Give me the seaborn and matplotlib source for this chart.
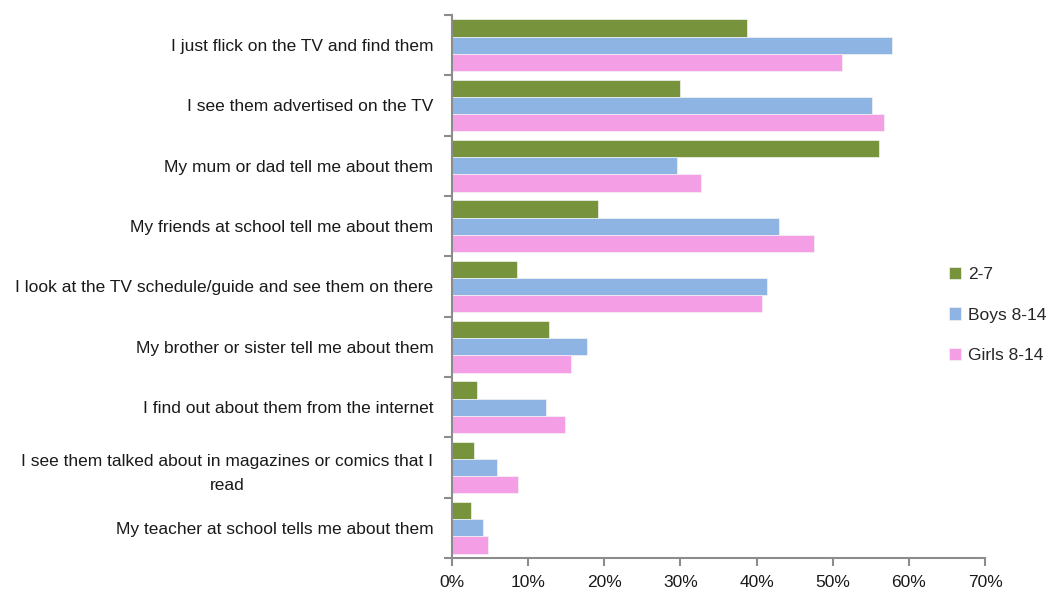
import matplotlib
matplotlib.use("Agg")
import matplotlib.pyplot as plt
import seaborn as sns
import pandas as pd
import numpy as np
from matplotlib.ticker import FixedLocator, PercentFormatter

categories = [
    "I just flick on the TV and find them",
    "I see them advertised on the TV",
    "My mum or dad tell me about them",
    "My friends at school tell me about them",
    "I look at the TV schedule/guide and see them on there",
    "My brother or sister tell me about them",
    "I find out about them from the internet",
    "I see them talked about in magazines or comics that I\nread",
    "My teacher at school tells me about them",
]
series_names = ["2-7", "Boys 8-14", "Girls 8-14"]
age_2_7 = [38.7, 30.0, 56.1, 19.2, 8.5, 12.8, 3.3, 2.9, 2.5]
boys_8_14 = [57.8, 55.2, 29.6, 42.9, 41.4, 17.7, 12.3, 5.9, 4.1]
girls_8_14 = [51.2, 56.7, 32.7, 47.6, 40.7, 15.6, 14.9, 8.7, 4.7]
x_ticks = [0, 10, 20, 30, 40, 50, 60, 70]

colors = ["#77933C", "#8EB4E3", "#F49FE5"]

rows = []
for name, vals in zip(series_names, [age_2_7, boys_8_14, girls_8_14]):
    for cat, v in zip(categories, vals):
        rows.append({"source": cat, "group": name, "pct": v})
df = pd.DataFrame(rows)

sns.set_theme(style="white")
plt.rcParams["font.family"] = ["Liberation Sans", "DejaVu Sans"]

fig = plt.figure(figsize=(10.58, 5.91), dpi=100)
ax = fig.add_axes([452 / 1058, 1 - 558 / 591, (985 - 452) / 1058, (558 - 15) / 591])

sns.barplot(data=df, y="source", x="pct", hue="group", order=categories,
            hue_order=series_names, palette=colors, saturation=1, orient="h",
            width=0.86, edgecolor="#f4f4f4", linewidth=0.5, ax=ax)

ax.set_xlim(0, 70)
ax.set_ylim(len(categories) - 0.5, -0.5)
ax.xaxis.set_major_locator(FixedLocator(x_ticks))
ax.xaxis.set_major_formatter(PercentFormatter(decimals=0))
ax.set_xlabel("")
ax.set_ylabel("")

# category labels without ticks; boundary ticks between groups
ax.tick_params(axis="y", which="major", length=0, pad=13.5, labelsize=12.5, colors="#1a1a1a")
ax.yaxis.set_minor_locator(FixedLocator(np.arange(-0.5, len(categories), 1.0)))
ax.tick_params(axis="y", which="minor", length=6, width=1.5, color="#8c8c8c", left=True)
ax.tick_params(axis="x", which="major", length=6, width=1.5, color="#8c8c8c",
               bottom=True, labelsize=12.5, labelcolor="#1a1a1a", pad=6)
for lbl in ax.get_yticklabels():
    lbl.set_multialignment("center")
    lbl.set_linespacing(1.75)

for side in ["top", "right"]:
    ax.spines[side].set_visible(False)
for side in ["left", "bottom"]:
    ax.spines[side].set_color("#8c8c8c")
    ax.spines[side].set_linewidth(1.5)

handles, labels = ax.get_legend_handles_labels()
ax.legend(handles, labels, loc="center left", bbox_to_anchor=(933 / 1058, 1 - 315 / 591),
          bbox_transform=fig.transFigure, frameon=False, fontsize=12.5,
          handlelength=0.7, handleheight=0.7, handletextpad=0.4, labelspacing=1.45)

fig.savefig("out.png", dpi=100)
